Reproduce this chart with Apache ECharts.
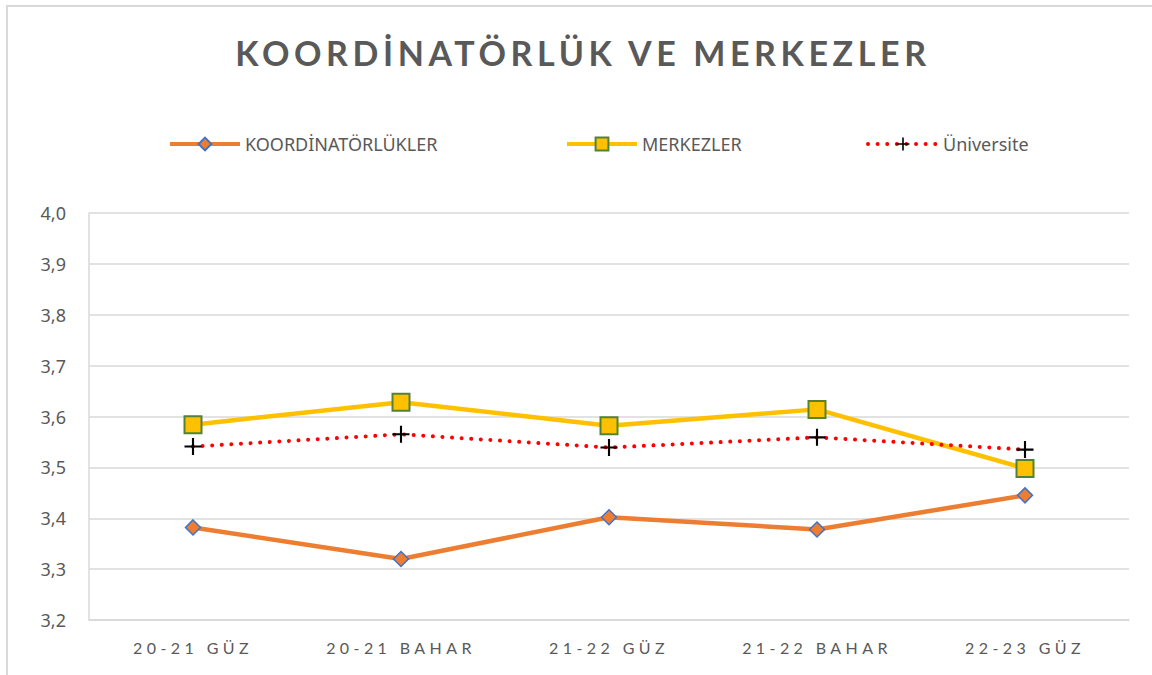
<!DOCTYPE html>
<html>
<head>
<meta charset="utf-8">
<script src="https://cdn.jsdelivr.net/npm/echarts@6/dist/echarts.min.js"></script>
<style>
  html, body { margin: 0; padding: 0; background: #fff; }
  #chart { width: 1152px; height: 675px; }
  /* spaced lettering like the original title and period labels */
  #chart text[style*="Lato"] { letter-spacing: 4.4px; }
  #chart text[style*="Lato"][style*="bold"] { letter-spacing: 4.6px; }
</style>
</head>
<body>
<div id="chart"></div>
<script>
const periods = ['20-21 GÜZ', '20-21 BAHAR', '21-22 GÜZ', '21-22 BAHAR', '22-23 GÜZ']
const koordinatorlukler = [3.382, 3.320, 3.402, 3.378, 3.445]
const merkezler = [3.584, 3.628, 3.582, 3.614, 3.498]
const universite = [3.541, 3.565, 3.539, 3.559, 3.535]

const textGrey = '#595959'
const gridGrey = '#d9d9d9'
const plusPath = 'path://M7,0H9V16H7ZM0,7H16V9H0Z'

const chart = echarts.init(document.getElementById('chart'), null, { renderer: 'svg' })

const legendBase = {
  top: 135,
  padding: 0,
  itemWidth: 70,
  itemHeight: 16,
  itemGap: 8,
  lineStyle: { width: 4 },
  textStyle: { color: textGrey, fontSize: 18, fontFamily: 'Noto Sans' }
}

const option = {
  backgroundColor: '#fff',
  animation: false,
  title: {
    text: 'KOORDİNATÖRLÜK VE MERKEZLER',
    left: 578,
    textAlign: 'center',
    top: 30,
    textStyle: { color: textGrey, fontSize: 34, fontWeight: 'bold', fontFamily: 'Lato' }
  },
  legend: [
    Object.assign({}, legendBase, { left: 168, data: ['KOORDİNATÖRLÜKLER'] }),
    Object.assign({}, legendBase, { left: 565, data: ['MERKEZLER'] }),
    Object.assign({}, legendBase, { left: 866, data: ['Üniversite'] })
  ],
  grid: {
    left: 89,
    right: 23,
    top: 213,
    bottom: 55
  },
  xAxis: {
    type: 'category',
    data: periods,
    boundaryGap: true,
    axisLine: { lineStyle: { color: gridGrey, width: 1.5 } },
    axisTick: { show: false },
    axisLabel: { color: textGrey, fontSize: 16, fontFamily: 'Lato', margin: 19 }
  },
  yAxis: {
    type: 'value',
    min: 3.2,
    max: 4.0,
    interval: 0.1,
    axisLine: { show: true, lineStyle: { color: gridGrey, width: 1.5 } },
    axisTick: { show: false },
    splitLine: { lineStyle: { color: gridGrey, width: 1.5 } },
    axisLabel: {
      color: textGrey,
      fontSize: 18,
      fontFamily: 'Noto Sans',
      margin: 23,
      formatter: (v) => v.toFixed(1).replace('.', ',')
    }
  },
  graphic: [
    {
      type: 'rect',
      shape: { x: 7, y: 6, width: 1200, height: 720 },
      style: { fill: 'none', stroke: gridGrey, lineWidth: 2 },
      silent: true
    }
  ],
  series: [
    {
      name: 'KOORDİNATÖRLÜKLER',
      type: 'line',
      data: koordinatorlukler,
      lineStyle: { color: '#ED7D31', width: 4.5 },
      symbol: 'diamond',
      symbolSize: 15,
      itemStyle: { color: '#ED7D31', borderColor: '#4472C4', borderWidth: 1.5 }
    },
    {
      name: 'MERKEZLER',
      type: 'line',
      data: merkezler,
      lineStyle: { color: '#FFC000', width: 4.5 },
      symbol: 'rect',
      symbolSize: 17,
      itemStyle: { color: '#FFC000', borderColor: '#548235', borderWidth: 2 }
    },
    {
      name: 'Üniversite',
      type: 'line',
      data: universite,
      lineStyle: { color: '#FF0000', width: 4, type: [0.01, 9.6], cap: 'round' },
      symbol: plusPath,
      symbolSize: 17,
      itemStyle: { color: '#000000' }
    }
  ]
}

chart.setOption(option)
</script>
</body>
</html>
